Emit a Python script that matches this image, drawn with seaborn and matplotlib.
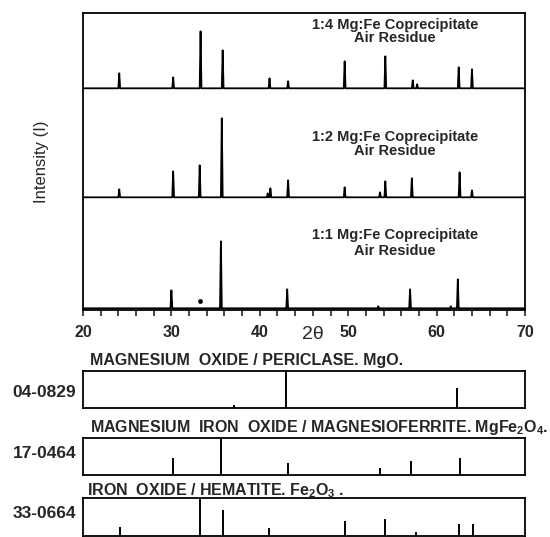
import numpy as np
import pandas as pd
import matplotlib
matplotlib.use("Agg")
import matplotlib.pyplot as plt
import seaborn as sns
from matplotlib.ticker import MultipleLocator

# ---------------- data ----------------
sample_labels = ["1:4 Mg:Fe Coprecipitate", "1:2 Mg:Fe Coprecipitate", "1:1 Mg:Fe Coprecipitate"]
sample_sub = "Air Residue"

# peak positions (2-theta) and heights (arbitrary units)
s14_pos = [24.1, 30.2, 33.3, 35.8, 41.1, 43.2, 49.6, 54.2, 57.3, 57.8, 62.5, 64.0]
s14_h = [15, 11, 57, 38, 10, 7, 27, 32, 8, 4, 21, 19]
s12_pos = [24.1, 30.2, 33.2, 35.7, 40.9, 41.2, 43.2, 49.6, 53.6, 54.2, 57.2, 62.6, 64.0]
s12_h = [8, 26, 32, 79, 4, 9, 17, 10, 5, 16, 19, 25, 7]
s11_pos = [30.0, 35.6, 43.1, 53.4, 57.0, 61.6, 62.4]
s11_h = [18, 67, 19, 2, 19, 2, 29]
s11_dot_pos = [33.2]
s11_dot_h = [7.6]

tick_values = [20, 30, 40, 50, 60, 70]
tick_labels = ["20", "30", "40", "50", "60", "70"]

card_ids = ["04-0829", "17-0464", "33-0664"]
card_titles = [
    r"MAGNESIUM  OXIDE / PERICLASE. MgO.",
    r"MAGNESIUM  IRON  OXIDE / MAGNESIOFERRITE. MgFe$_\mathbf{2}$O$_\mathbf{4}$.",
    r"IRON  OXIDE / HEMATITE. Fe$_\mathbf{2}$O$_\mathbf{3}$ .",
]
mgo_pos = [37.1, 43.0, 62.3]
mgo_rel = [0.08, 1.0, 0.55]
mgfe_pos = [30.2, 35.6, 43.2, 53.6, 57.1, 62.6]
mgfe_rel = [0.47, 1.0, 0.32, 0.2, 0.38, 0.45]
hem_pos = [24.2, 33.2, 35.8, 41.0, 49.6, 54.2, 57.7, 62.5, 64.1]
hem_rel = [0.25, 1.0, 0.69, 0.21, 0.41, 0.45, 0.1, 0.32, 0.32]

# ---------------- style ----------------
sns.set_style("white")
plt.rcParams["font.family"] = ["Liberation Sans", "DejaVu Sans"]
plt.rcParams["mathtext.fontset"] = "custom"
plt.rcParams["mathtext.rm"] = "Liberation Sans"
plt.rcParams["mathtext.bf"] = "Liberation Sans:bold"
plt.rcParams["mathtext.it"] = "Liberation Sans:italic"

W, H = 550, 537
fig = plt.figure(figsize=(W / 100, H / 100), dpi=100)


def px_rect(left, top, right, bottom):
    return [left / W, 1 - bottom / H, (right - left) / W, (bottom - top) / H]


def profile(pos, hts, name, w=0.1):
    xs, ys = [20.0], [0.0]
    for p, h in zip(pos, hts):
        xs += [p - w, p, p + w]
        ys += [0.0, h, 0.0]
    xs.append(70.0)
    ys.append(0.0)
    return pd.DataFrame({"two_theta": xs, "intensity": ys, "sample": name})


# ---------------- main XRD panel ----------------
ax = fig.add_axes(px_rect(83, 12.7, 525, 310))
ax.set_xlim(20, 70)
ax.set_ylim(0, 297.3)

offsets = [221.7, 112.7, 1.7]
traces = [(s14_pos, s14_h), (s12_pos, s12_h), (s11_pos, s11_h)]
for (pos, hts), off, name in zip(traces, offsets, sample_labels):
    df = profile(pos, hts, name)
    df["intensity"] = df["intensity"] + off
    sns.lineplot(data=df, x="two_theta", y="intensity", sort=False,
                 estimator=None, color="black", lw=1.3, ax=ax)

dots = pd.DataFrame({"two_theta": s11_dot_pos,
                     "intensity": np.array(s11_dot_h) + offsets[2]})
sns.scatterplot(data=dots, x="two_theta", y="intensity", color="black",
                s=10, edgecolor="black", ax=ax, zorder=3)

text_y = [(285.3, 272.0), (173.0, 159.0), (75.0, 59.0)]
for lab, (y1, y2) in zip(sample_labels, text_y):
    ax.text(55.3, y1, lab, ha="center", va="center", fontsize=10.5, fontweight="bold")
    ax.text(55.3, y2, sample_sub, ha="center", va="center", fontsize=10.5, fontweight="bold")

ax.set_xticks(tick_values, labels=tick_labels, fontweight="bold")
ax.xaxis.set_minor_locator(MultipleLocator(2))
ax.tick_params(axis="x", which="both", direction="out", length=4, width=1.2,
               labelsize=11.5, pad=6.5, bottom=True)
ax.set_yticks([])
for sp in ax.spines.values():
    sp.set_linewidth(1.3)
    sp.set_color("black")
ax.set_xlabel("2θ", fontsize=14, va="center")
ax.xaxis.set_label_coords(0.52, -0.084)
ax.set_ylabel("Intensity (I)", fontsize=12, va="center")
ax.yaxis.set_label_coords(-0.095, 0.5)

# ---------------- reference cards ----------------
boxes = [(371, 408.3), (438.3, 475), (498.3, 536)]
cards = [(mgo_pos, mgo_rel), (mgfe_pos, mgfe_rel), (hem_pos, hem_rel)]
title_xy = [(90, 365), (90, 432), (87, 495)]
id_y = [397, 458, 518]
for (top, bot), (pos, rel), cid, ttl, (tx, ty), iy in zip(boxes, cards, card_ids,
                                                          card_titles, title_xy, id_y):
    bx = fig.add_axes(px_rect(83, top, 525, bot))
    bx.set_xlim(20, 70)
    bx.set_ylim(0, 1)
    bx.vlines(pos, 0, rel, color="black", lw=1.4)
    bx.set_xticks([])
    bx.set_yticks([])
    for sp in bx.spines.values():
        sp.set_linewidth(1.3)
        sp.set_color("black")
    fig.text(tx / W, 1 - ty / H, ttl, ha="left", va="baseline",
             fontsize=11.5, fontweight="bold")
    fig.text(76 / W, 1 - iy / H, cid, ha="right", va="baseline",
             fontsize=12.5, fontweight="bold")

fig.savefig("out.png", dpi=100)
